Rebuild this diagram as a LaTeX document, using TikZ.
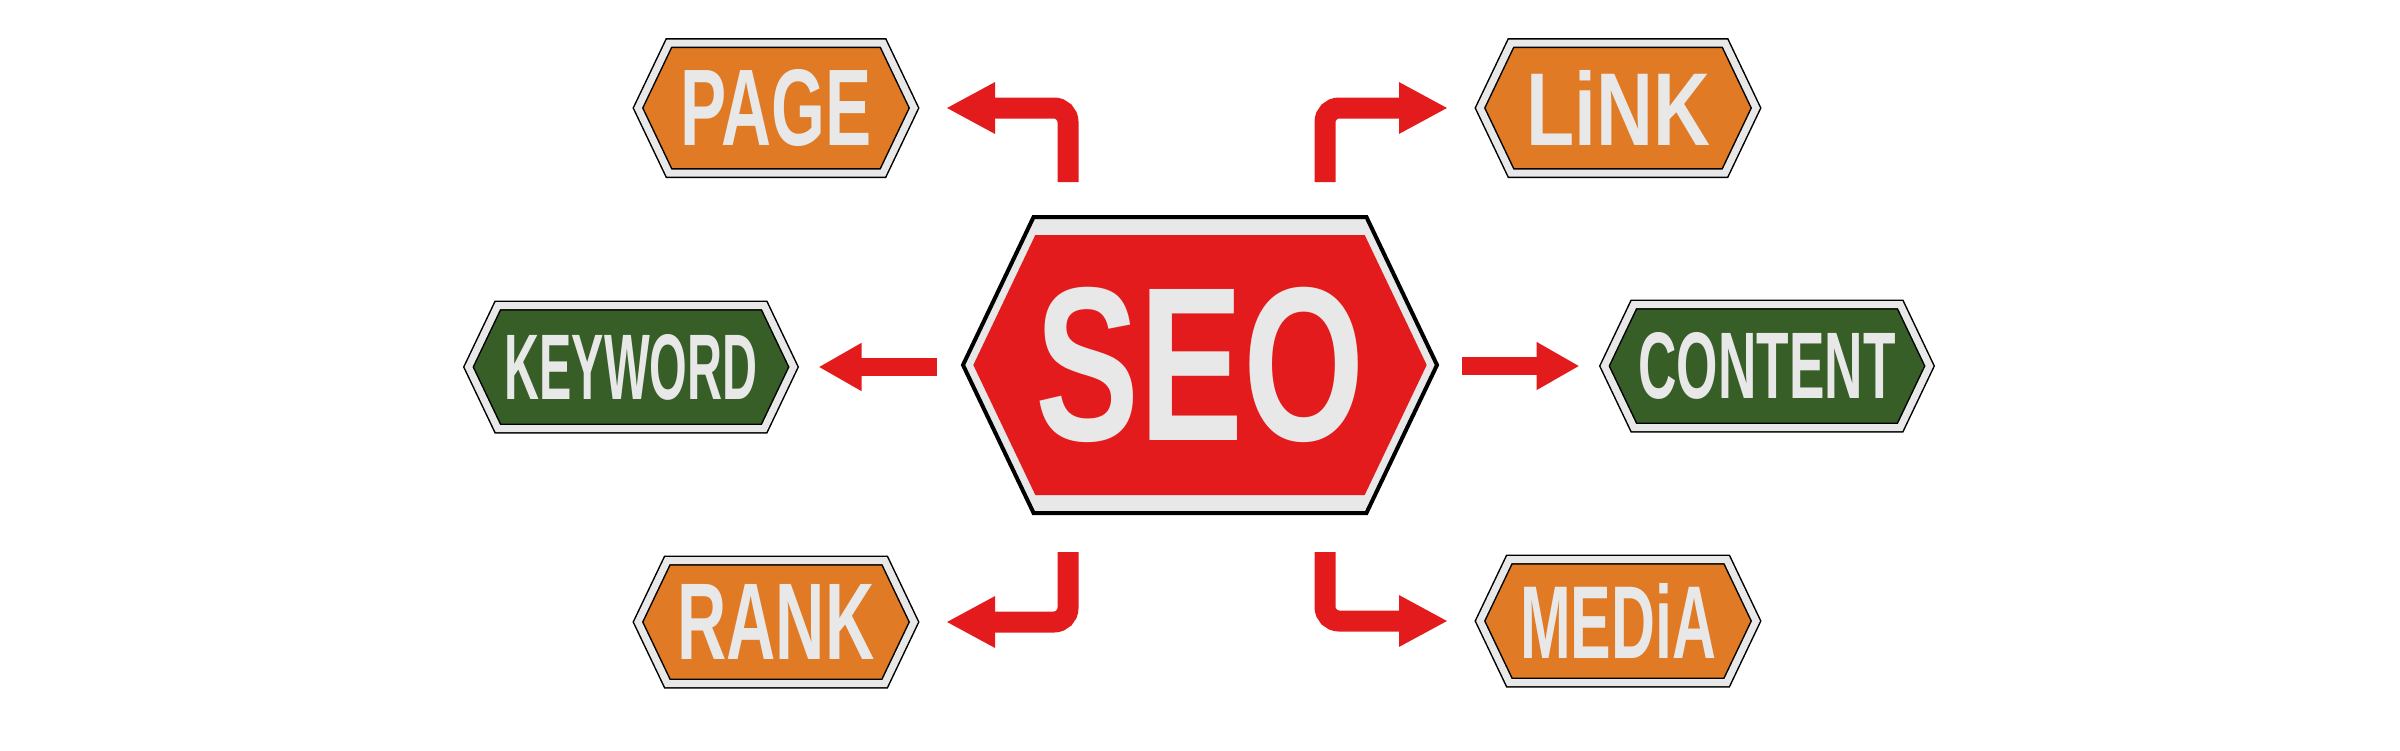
\documentclass[tikz,border=0pt]{standalone}
\usepackage{fontspec}
\usepackage{graphicx}
\setsansfont{Liberation Sans}
\usetikzlibrary{shapes.symbols, arrows.meta}

\definecolor{signred}{HTML}{E41B1D}
\definecolor{signorange}{HTML}{E07A24}
\definecolor{signgreen}{HTML}{375E27}
\definecolor{signgray}{HTML}{E8E8E8}

% squeeze a word into w x h (in pt)
\newcommand\signword[3]{\resizebox{#1pt}{#2pt}{#3}}

\tikzset{
x=1pt, y=-1pt, % one unit = one pixel, y runs down
sign/.style={signal, signal to=west and east, signal pointer angle=129,
  inner sep=0pt, outer sep=0pt, draw=black, line width=1.5pt,
  double=signgray, double distance=7pt, text=signgray, font=\sffamily\bfseries},
small sign/.style={sign, minimum width=276pt, minimum height=123pt, fill=signorange},
wide sign/.style={sign, minimum width=325pt, minimum height=123pt, fill=signgreen},
seo frame/.style={signal, signal to=west and east, signal pointer angle=129,
  inner sep=0pt, outer sep=0pt, draw=black, line width=4pt, fill=signgray,
  minimum width=474pt, minimum height=296pt},
seo sign/.style={signal, signal to=west and east, signal pointer angle=129,
  inner sep=0pt, outer sep=0pt, fill=signred, text=signgray,
  minimum width=434pt, minimum height=260pt, font=\sffamily\bfseries},
seo arrow/.style={draw=signred, line width=21pt, rounded corners=14pt,
  -{Triangle[length=49pt,width=48pt]}},
seo arrow straight/.style={draw=signred, line width=18pt,
  -{Triangle[length=43pt,width=45pt]}},
}

\begin{document}
\begin{tikzpicture}
\useasboundingbox (0,0) rectangle (2400,750);

% centre sign
\node[seo frame] (seo-frame) at (1200,365) {};
\node[seo sign] (seo) at (1200,365) {\signword{329}{153}{SEO}};

% the six small signs
\node[small sign, minimum height=130pt] (page) at (776,108) {\signword{191}{76}{PAGE}};
\node[small sign, minimum height=130pt] (link) at (1618,108) {\signword{184}{75}{LiNK}};
\node[wide sign] (keyword) at (631,367) {\signword{253}{65}{KEYWORD}};
\node[wide sign] (content) at (1767,366) {\signword{257}{66}{CONTENT}};
\node[small sign] (rank) at (776,622) {\signword{197}{75}{RANK}};
\node[small sign] (media) at (1618,621) {\signword{196}{75}{MEDiA}};

% arrows out of the centre
\draw[seo arrow] ([shift={(-132,-35)}]seo-frame.north) |- ([xshift=32pt]page.east);
\draw[seo arrow] ([shift={(125,-35)}]seo-frame.north) |- ([xshift=-32pt]link.west);
\draw[seo arrow] ([shift={(-132,39)}]seo-frame.south) |- ([xshift=32pt]rank.east);
\draw[seo arrow] ([shift={(125,39)}]seo-frame.south) |- ([xshift=-32pt]media.west);
\draw[seo arrow straight] ([xshift=-26pt]seo-frame.west |- keyword.east) -- ([xshift=25pt]keyword.east);
\draw[seo arrow straight] ([xshift=25pt]seo-frame.east |- content.west) -- ([xshift=-25pt]content.west);
\end{tikzpicture}
\end{document}
